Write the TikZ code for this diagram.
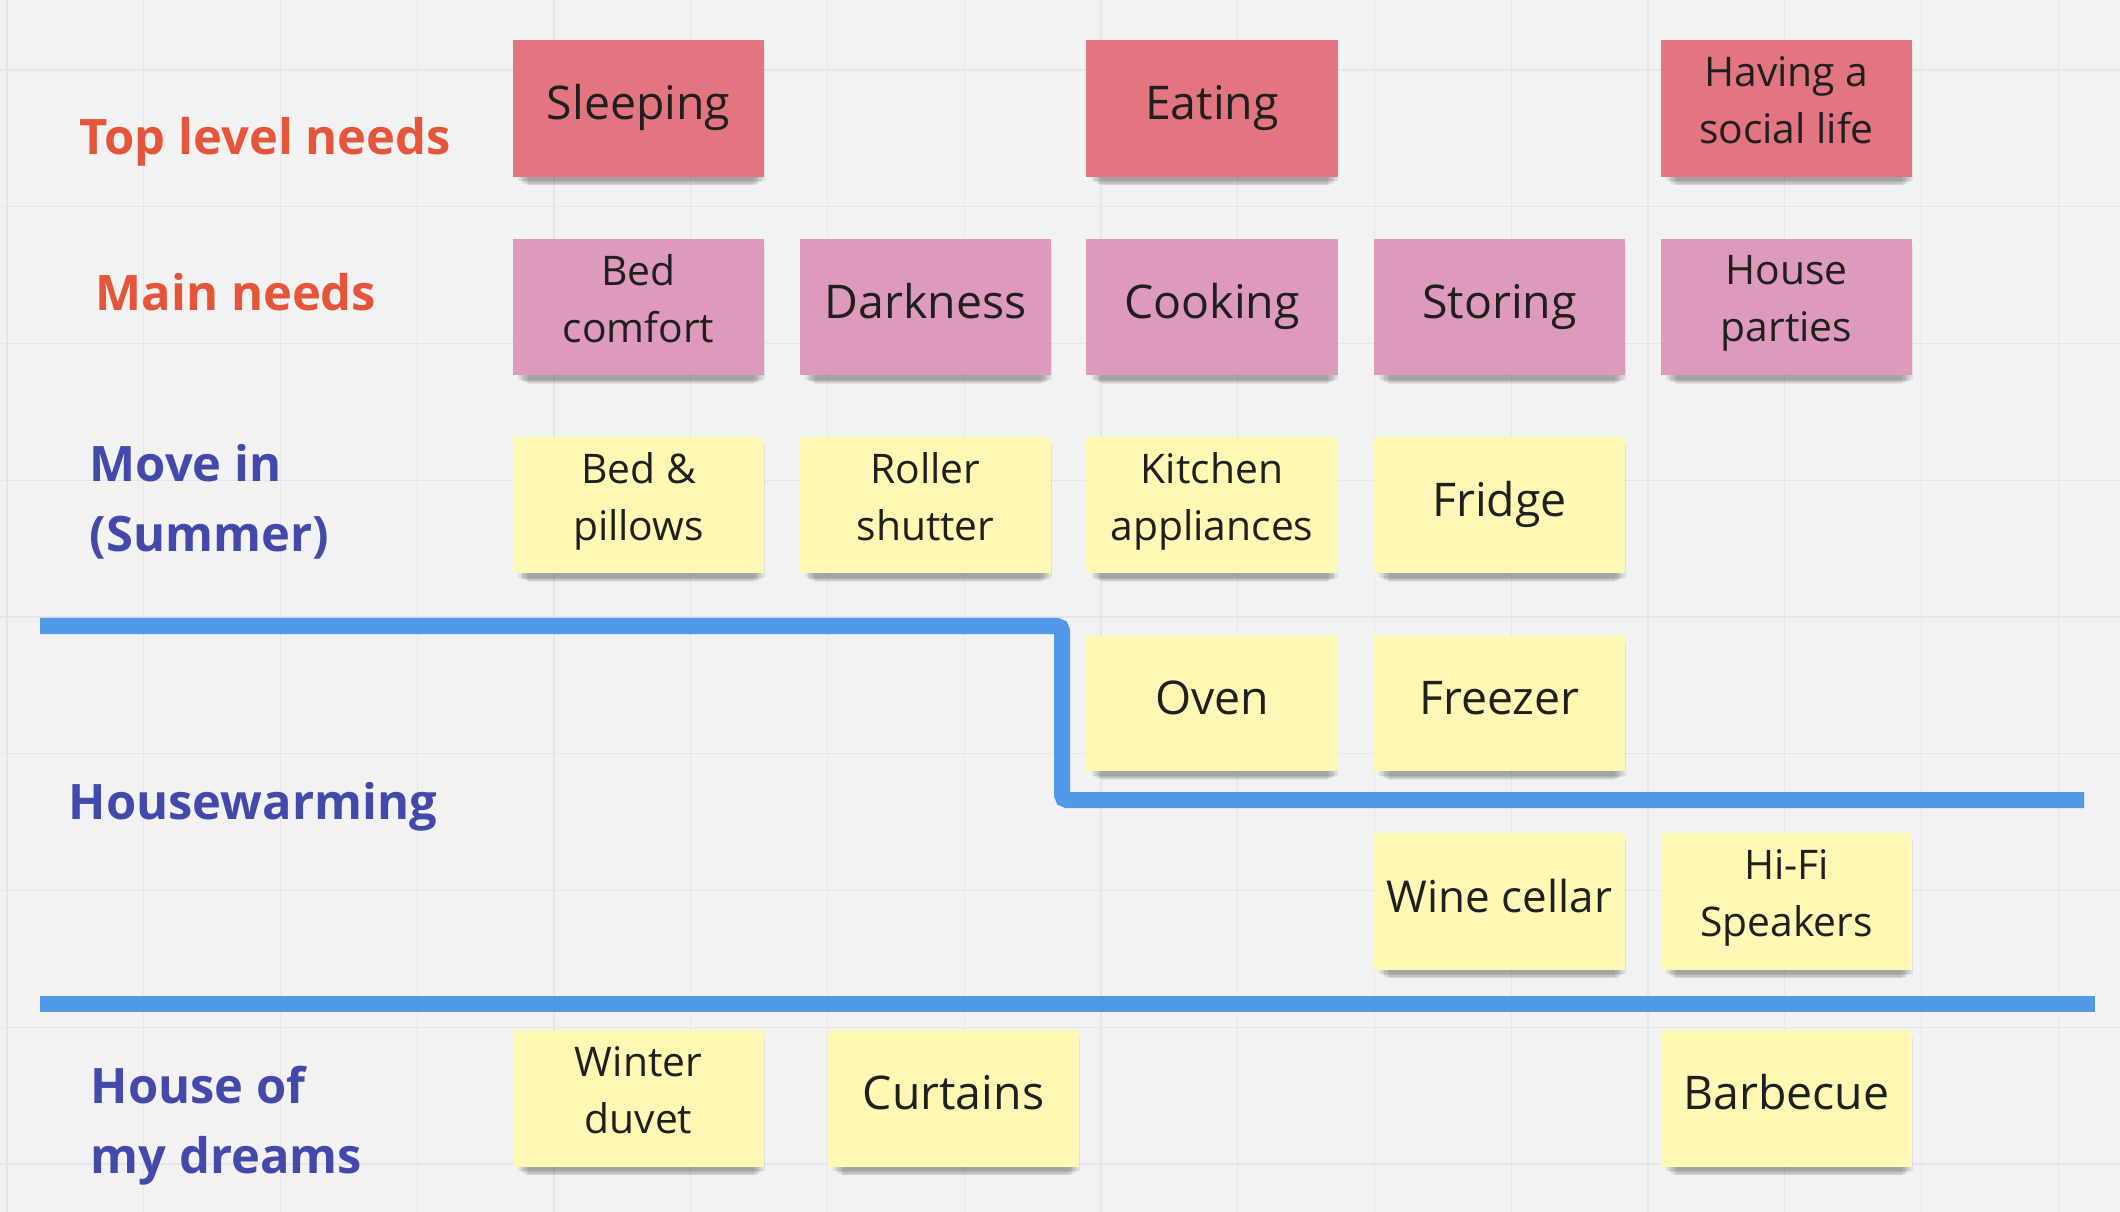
\documentclass[tikz,border=0pt]{standalone}
\usepackage{fontspec}
\setmainfont{Open Sans}
\usetikzlibrary{shadows}

\definecolor{board}{HTML}{F2F2F2}
\definecolor{gridline}{HTML}{E6E6E6}
\definecolor{topred}{HTML}{E2757F}
\definecolor{mainpink}{HTML}{DE9ABD}
\definecolor{noteyellow}{HTML}{FFF8B4}
\definecolor{headorange}{HTML}{E4553A}
\definecolor{laneblue}{HTML}{4349AB}
\definecolor{divider}{HTML}{5199E8}

\begin{document}
\begin{tikzpicture}[x=0.01cm, y=-0.01cm,
  note/.style={shape=rectangle, minimum width=2.51cm, minimum height=1.36cm, inner sep=0pt,
    align=center, text=black!88, font=\fontsize{13.2}{16}\selectfont,
    execute at begin node=\strut, execute at end node=\strut,
    drop shadow={shadow xshift=0.03cm, shadow yshift=-0.06cm, shadow scale=0.98, opacity=0.08, fill=black},
    drop shadow={shadow xshift=0.03cm, shadow yshift=-0.09cm, shadow scale=0.96, opacity=0.08, fill=black},
    drop shadow={shadow xshift=0.03cm, shadow yshift=-0.12cm, shadow scale=0.94, opacity=0.08, fill=black},
    drop shadow={shadow xshift=0.03cm, shadow yshift=-0.15cm, shadow scale=0.92, opacity=0.07, fill=black},
    drop shadow={shadow xshift=0.03cm, shadow yshift=-0.17cm, shadow scale=0.90, opacity=0.06, fill=black}},
  twoline/.style={font=\fontsize{11.6}{16.2}\selectfont},
  topnote/.style={note, fill=topred},
  mainnote/.style={note, fill=mainpink},
  itemnote/.style={note, fill=noteyellow},
  needlabel/.style={anchor=base west, inner sep=0pt, text=headorange, font=\fontsize{13.9}{20}\selectfont\bfseries},
  lanelabel/.style={anchor=base west, inner sep=0pt, align=left, text=laneblue, font=\fontsize{13.9}{19.8}\selectfont\bfseries},
  divide/.style={draw=divider, line width=0.16cm, rounded corners=0.05cm}]

  \useasboundingbox (0,0) rectangle (2120,1212);
  \fill[board] (0,0) rectangle (2120,1212);
  \foreach \k in {0,...,15}
    \draw[gridline, line width=0.4pt] ({7+136.75*\k},0) -- ({7+136.75*\k},1212);
  \foreach \k in {0,...,8}
    \draw[gridline, line width=0.4pt] (0,{70+136.75*\k}) -- (2120,{70+136.75*\k});

  % swimlane dividers
  \draw[divide] (40,626) -- (1062,626) -- (1062,800) -- (2084,800);
  \draw[divide] (40,1004) -- (2095,1004);

  % row labels (two-line ones sit on their last baseline)
  \node[needlabel] (toplabel) at (79,154) {Top level needs};
  \node[needlabel] (mainlabel) at (95,310) {Main needs};
  \node[lanelabel] (moveinlabel) at (89,551) {Move in\\(Summer)};
  \node[lanelabel] (warminglabel) at (68,819) {Housewarming};
  \node[lanelabel] (dreamslabel) at (90,1173) {House of\\my dreams};

  % top level needs
  \node[topnote] (sleeping) at (638.5,108.5) {Sleeping};
  \node[topnote] (eating) at (1212,108.5) {Eating};
  \node[topnote, twoline] (social) at (1786.5,108.5) {Having a\\social life};

  % main needs
  \node[mainnote, twoline] (bedcomfort) at (638.5,307) {Bed\\comfort};
  \node[mainnote] (darkness) at (925.5,307) {Darkness};
  \node[mainnote] (cooking) at (1212,307) {Cooking};
  \node[mainnote] (storing) at (1499.5,307) {Storing};
  \node[mainnote, twoline] (parties) at (1786.5,307) {House\\parties};

  % move in
  \node[itemnote, twoline] (pillows) at (638.5,505) {Bed \&\\pillows};
  \node[itemnote, twoline] (shutter) at (925.5,505) {Roller\\shutter};
  \node[itemnote, twoline] (kitchen) at (1212,505) {Kitchen\\appliances};
  \node[itemnote] (fridge) at (1499.5,505) {Fridge};

  % housewarming
  \node[itemnote] (oven) at (1212,703) {Oven};
  \node[itemnote] (freezer) at (1499.5,703) {Freezer};
  \node[itemnote, font=\fontsize{12.5}{16}\selectfont] (wine) at (1499.5,901.5) {Wine cellar};
  \node[itemnote, twoline] (hifi) at (1786.5,901.5) {Hi-Fi\\Speakers};

  % house of my dreams
  \node[itemnote, twoline] (duvet) at (638.5,1098.5) {Winter\\duvet};
  \node[itemnote] (curtains) at (953.5,1098.5) {Curtains};
  \node[itemnote] (barbecue) at (1786.5,1098.5) {Barbecue};
\end{tikzpicture}
\end{document}
